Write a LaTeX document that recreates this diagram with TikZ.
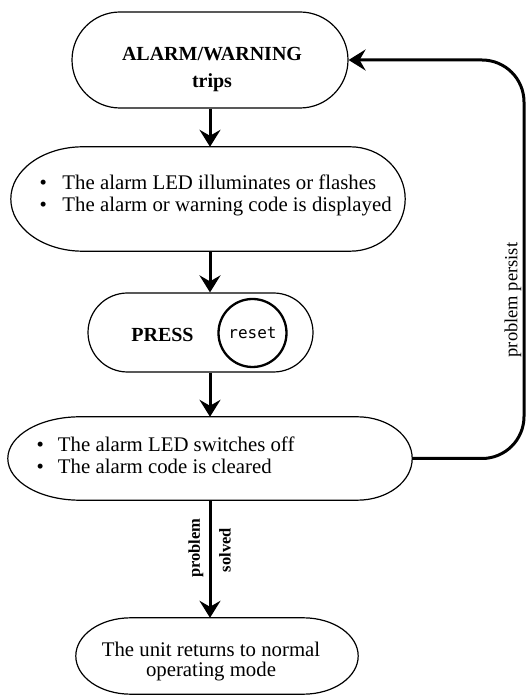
\documentclass[tikz,border=0pt]{standalone}
\usepackage{fontspec}
\setmainfont{Liberation Serif}
\newfontfamily\resetfont{DejaVu Sans Mono}
\usetikzlibrary{shapes.misc,arrows.meta,calc}
\tikzset{
  shapeline/.style={line width=1.2pt},
  rrect/.style={rounded rectangle, draw, shapeline, inner sep=0pt},
  ebox/.style={rectangle, draw=none, inner sep=0pt},
  flow/.style={line width=3pt, -{Stealth[length=17pt,width=21pt,inset=6pt]}},
  txt/.style={inner sep=0pt, font=\fontsize{20.8}{21.5}\selectfont},
  btxt/.style={inner sep=0pt, font=\fontsize{20}{21}\selectfont\bfseries},
  lbltxt/.style={inner sep=0pt, font=\fontsize{16.5}{18}\selectfont\bfseries},
  sidetxt/.style={inner sep=0pt, font=\fontsize{18.5}{19}\selectfont},
}
\newcommand\ecap[3]{%
  \draw[shapeline] let \p1=(#1.north west), \p2=(#1.south east), \n1={(\y1-\y2)/2} in
    ({\x1+#2},\y1) -- ({\x2-#3},\y1) arc[start angle=90,end angle=-90,x radius=#3,y radius=\n1]
    -- ({\x1+#2},\y2) arc[start angle=270,end angle=90,x radius=#2,y radius=\n1] -- cycle;}
\begin{document}
\begin{tikzpicture}[x=1pt,y=1pt]
\useasboundingbox (0,0) rectangle (527,697);
\coordinate (ax) at (210,0);
\coordinate (rx) at (524,0);
% nodes (outlines)
\node[rrect, minimum width=276pt, minimum height=96pt] (n1) at (210,637) {};
\node[ebox, minimum width=394pt, minimum height=104pt] (n2) at (208,498) {};
\node[rrect, minimum width=225pt, minimum height=79pt] (n3) at (200.5,364.5) {};
\node[ebox, minimum width=404pt, minimum height=83pt] (n4) at (210,238.5) {};
\node[ebox, minimum width=282pt, minimum height=76pt] (n5) at (217,41) {};
\ecap{n2}{72pt}{55pt}
\ecap{n4}{72pt}{55pt}
\ecap{n5}{55pt}{55pt}
% texts
\node[btxt, anchor=base] (t1a) at (212,636) {ALARM/WARNING};
\node[btxt, anchor=base] (t1b) at (212,609) {trips};
\node[txt, anchor=base west] (t2a) at (39.5,507) {\textbullet\hspace{15.5pt}The alarm LED illuminates or flashes};
\node[txt, anchor=base west] (t2b) at (39.5,485.5) {\textbullet\hspace{15.5pt}The alarm or warning code is displayed};
\node[btxt, anchor=base] (t3) at (162.5,355.5) {PRESS};
\node[circle, draw, line width=2.3pt, minimum size=68pt, inner sep=0pt, font=\resetfont\fontsize{16}{17}\selectfont] (rs) at (252.5,364) {reset};
\node[txt, anchor=base west] (t4a) at (36.5,245) {\textbullet\hspace{14pt}The alarm LED switches off};
\node[txt, anchor=base west] (t4b) at (36.5,223.5) {\textbullet\hspace{14pt}The alarm code is cleared};
\node[txt, anchor=base] (t5a) at (211,40.5) {The unit returns to normal};
\node[txt, anchor=base] (t5b) at (211,20) {operating mode};
\node[lbltxt, rotate=90] (lp) at (196,149) {problem};
\node[lbltxt, rotate=90] (ls) at (225,147) {solved};
\node[sidetxt, rotate=90] (lpp) at (513,397) {problem persist};
% connectors
\draw[flow] (n1.south -| ax) -- (n2.north -| ax);
\draw[flow] (n2.south -| ax) -- (n3.north -| ax);
\draw[flow] (n3.south -| ax) -- (n4.north -| ax);
\draw[flow] (n4.south -| ax) -- (n5.north -| ax);
\draw[flow, rounded corners=42pt] (n4.east) -- (n4.east -| rx) -- (n1.east -| rx) -- (n1.east);
\end{tikzpicture}
\end{document}
